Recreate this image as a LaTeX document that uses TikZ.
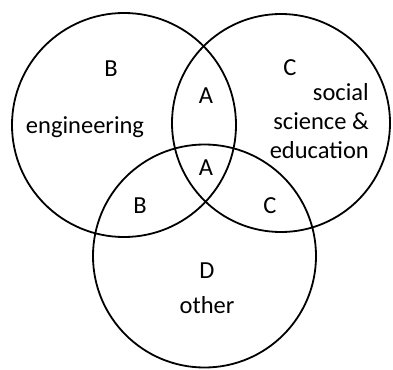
\documentclass[tikz,border=0pt]{standalone}
\usepackage{fontspec}
\setmainfont{Carlito}
\begin{document}
\begin{tikzpicture}[x=1pt,y=-1pt,
  venn/.style={draw=black,line width=1.8pt},
  lbl/.style={font=\fontsize{24.5}{29}\selectfont,inner sep=0pt,anchor=base}]
\useasboundingbox (0,0) rectangle (393,369);
\node[venn,circle,minimum size=224pt,inner sep=0pt] (left) at (124,125) {};
\node[venn,circle,minimum size=218pt,inner sep=0pt] (right) at (281,123) {};
\node[venn,circle,minimum size=223pt,inner sep=0pt] (bottom) at (204.5,256) {};
\node[lbl] (bTop) at (111,76) {B};
\node[lbl] (eng) at (85,133) {engineering};
\node[lbl] (aTop) at (206,103) {A};
\node[lbl] (aMid) at (206,175) {A};
\node[lbl] (cTop) at (290,75) {C};
\node[lbl,anchor=base east] (soc) at (369,100) {social};
\node[lbl,anchor=base east] (sci) at (369,129) {science \&};
\node[lbl,anchor=base east] (edu) at (369,158) {education};
\node[lbl] (bLow) at (140,213) {B};
\node[lbl] (cLow) at (270,213) {C};
\node[lbl] (dLbl) at (207,278) {D};
\node[lbl] (oth) at (207,313) {other};
\end{tikzpicture}
\end{document}
